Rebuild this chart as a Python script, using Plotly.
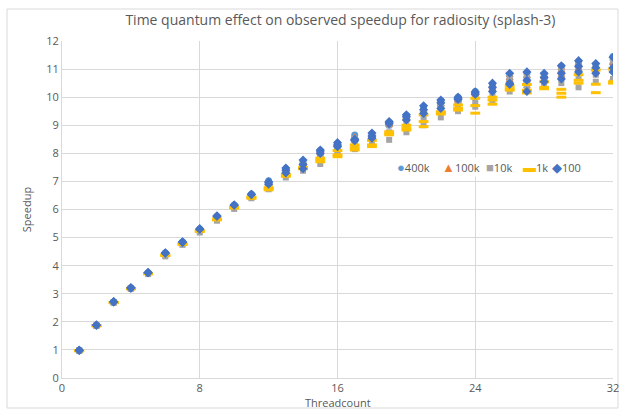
import plotly.graph_objects as go

threads = [1, 2, 3, 4, 5, 6, 7, 8, 9, 10, 11, 12, 13, 14, 15, 16,
           17, 18, 19, 20, 21, 22, 23, 24, 25, 26, 27, 28, 29, 30, 31, 32]

s400k_run1 = [0.99,1.88,2.71,3.21,3.75,4.45,4.84,5.30,5.76,6.16,6.54,7.02,7.45,7.70,8.10,8.35,8.65,8.70,9.10,9.35,9.65,9.88,10.00,10.20,10.45,10.80,10.85,10.80,11.10,11.25,11.15,11.45]
s400k_run2 = [0.98,1.87,2.70,3.19,3.73,4.42,4.80,5.26,5.72,6.10,6.48,6.90,7.35,7.55,7.95,8.20,8.45,8.55,9.00,9.20,9.45,9.70,9.85,10.10,10.30,10.45,10.55,10.55,10.70,10.95,10.90,10.60]
s400k_run3 = [0.99,1.88,2.70,3.20,3.74,4.43,4.82,5.28,5.74,6.13,6.51,6.95,7.40,7.62,8.02,8.28,8.55,8.62,9.05,9.28,9.55,9.78,9.92,10.15,10.38,10.62,10.70,10.68,10.90,11.10,11.00,11.20]

s100k_run1 = [0.99,1.88,2.71,3.20,3.75,4.44,4.83,5.30,5.76,6.15,6.53,6.95,7.42,7.68,8.08,8.32,8.58,8.66,9.08,9.30,9.60,9.85,9.80,10.15,10.42,10.78,10.75,10.78,11.05,11.20,11.10,11.38]
s100k_run2 = [0.98,1.87,2.70,3.19,3.73,4.41,4.80,5.27,5.73,6.12,6.50,6.90,7.36,7.58,8.00,8.25,8.50,8.60,9.00,9.22,9.50,9.70,9.85,10.05,10.30,10.60,10.40,10.65,10.80,11.00,10.95,11.05]
s100k_run3 = [0.98,1.87,2.70,3.19,3.74,4.42,4.81,5.28,5.74,6.13,6.51,6.92,7.38,7.62,8.04,8.28,8.52,8.63,9.03,9.25,9.55,9.75,9.90,10.10,10.35,10.68,10.62,10.72,10.95,11.12,11.02,11.22]

s10k_run1 = [0.99,1.88,2.70,3.20,3.74,4.42,4.81,5.28,5.73,6.12,6.50,6.88,7.38,7.62,8.02,8.28,8.52,8.62,9.00,9.22,9.50,9.75,9.90,10.10,10.40,10.70,10.80,10.75,11.00,11.20,11.10,11.30]
s10k_run2 = [0.96,1.85,2.68,3.18,3.70,4.33,4.74,5.18,5.60,6.02,6.40,6.72,7.14,7.38,7.62,8.00,8.15,8.38,8.48,8.75,9.00,9.28,9.50,9.66,9.85,10.20,10.30,10.40,10.50,10.35,10.55,10.65]
s10k_run3 = [0.97,1.86,2.69,3.19,3.72,4.38,4.78,5.24,5.68,6.08,6.45,6.80,7.25,7.50,7.80,8.10,8.35,8.50,8.75,9.00,9.25,9.50,9.70,9.85,10.10,10.40,10.55,10.55,10.70,10.75,10.80,10.95]

s1k_run1 = [0.98,1.87,2.69,3.19,3.72,4.38,4.78,5.24,5.66,6.08,6.45,6.78,7.25,7.50,7.83,8.10,8.30,8.46,8.77,9.00,9.37,9.48,9.72,9.96,10.00,10.40,10.45,10.55,10.28,10.80,10.97,11.00]
s1k_run2 = [0.97,1.86,2.68,3.18,3.71,4.36,4.76,5.22,5.63,6.05,6.40,6.70,7.18,7.45,7.70,7.88,8.12,8.24,8.66,8.83,9.13,9.40,9.54,9.43,9.75,10.25,10.15,10.30,10.14,10.50,10.46,10.50]
s1k_run3 = [0.98,1.87,2.69,3.19,3.72,4.37,4.77,5.23,5.65,6.07,6.42,6.74,7.22,7.48,7.76,7.95,8.20,8.30,8.70,8.90,8.95,9.45,9.60,9.70,9.90,10.30,10.25,10.35,10.00,10.60,10.16,10.55]

s100_run1 = [0.99,1.89,2.72,3.21,3.76,4.46,4.85,5.31,5.77,6.16,6.54,6.99,7.48,7.76,8.12,8.38,8.50,8.72,9.13,9.37,9.69,9.90,10.00,10.19,10.50,10.85,10.90,10.85,11.12,11.30,11.20,11.42]
s100_run2 = [0.98,1.88,2.71,3.20,3.75,4.44,4.83,5.30,5.76,6.15,6.53,6.90,7.40,7.60,8.08,8.24,8.45,8.62,9.05,9.19,9.42,9.60,9.92,10.15,10.20,10.50,10.60,10.55,10.65,11.10,10.85,10.90]
s100_run3 = [0.99,1.88,2.71,3.21,3.75,4.45,4.84,5.31,5.77,6.16,6.54,6.95,7.30,7.45,8.00,8.30,8.48,8.54,9.10,9.30,9.55,9.80,9.95,10.10,10.35,10.45,10.20,10.70,10.85,10.90,11.05,11.05]

series_names = ["400k", "100k", "10k", "1k", "100"]
series_runs = [
    [s400k_run1, s400k_run2, s400k_run3],
    [s100k_run1, s100k_run2, s100k_run3],
    [s10k_run1, s10k_run2, s10k_run3],
    [s1k_run1, s1k_run2, s1k_run3],
    [s100_run1, s100_run2, s100_run3],
]
colors = ["#5B9BD5", "#ED7D31", "#A5A5A5", "#FFC000", "#4472C4"]
symbols = ["circle", "triangle-up", "square", "line-ew", "diamond"]
sizes = [7, 7, 6, 7, 7]
legend_glyphs = ["●", "▲", "■", "▬", "◆"]

FONT = "Open Sans"
GRAY = "#595959"

fig = go.Figure()
for name, runs, col, sym, sz in zip(series_names, series_runs, colors, symbols, sizes):
    xs, ys = [], []
    for run in runs:
        xs += threads
        ys += run
    if sym == "line-ew":
        marker = dict(symbol=sym, size=sz, color=col, line=dict(color=col, width=3))
    else:
        marker = dict(symbol=sym, size=sz, color=col, line=dict(width=0))
    fig.add_trace(go.Scatter(x=xs, y=ys, mode="markers", name=name,
                             marker=marker, showlegend=False))

# compact legend drawn as text inside the plot area
leg_x = [396, 441, 485, 522, 551]
annotations = []
for (name, col, glyph, lx) in zip(series_names, colors, legend_glyphs, leg_x):
    annotations.append(dict(
        xref="paper", yref="paper",
        x=(lx - 62) / 551, y=(378 - 167) / 337,
        xanchor="left", yanchor="middle", showarrow=False,
        text=f"<span style='color:{col};font-size:13px'>{glyph}</span>{name}",
        font=dict(family=FONT, size=11, color=GRAY),
        bgcolor="white", borderpad=0,
    ))
annotations.append(dict(
    xref="paper", yref="paper", x=0.5, y=(378 - 402) / 337,
    xanchor="center", yanchor="middle", showarrow=False,
    text="Threadcount", font=dict(family=FONT, size=11, color=GRAY)))

fig.update_layout(
    width=619, height=409,
    margin=dict(l=62, r=6, t=41, b=31),
    paper_bgcolor="white", plot_bgcolor="white",
    font=dict(family=FONT, size=11, color=GRAY),
    title=dict(text="Time quantum effect on observed speedup for radiosity (splash-3)",
               x=0.55, xref="container", xanchor="center",
               y=1 - 20 / 409, yref="container", yanchor="middle",
               font=dict(family=FONT, size=14, color=GRAY)),
    xaxis=dict(range=[0, 32], dtick=8, tick0=0, showgrid=True, gridcolor="#D9D9D9",
               gridwidth=1, zeroline=False, showline=True, linecolor="#D9D9D9",
               ticks="", tickfont=dict(size=11, color=GRAY), automargin=False,
               ticklabeloverflow="allow"),
    yaxis=dict(range=[0, 12], dtick=1, tick0=0, showgrid=True, gridcolor="#D9D9D9",
               gridwidth=1, zeroline=False, showline=True, linecolor="#D9D9D9",
               ticks="", tickfont=dict(size=11, color=GRAY), automargin=False,
               title=dict(text="Speedup", standoff=12,
                          font=dict(size=11, color=GRAY))),
    annotations=annotations,
    shapes=[dict(type="rect", xref="paper", yref="paper",
                 x0=(7 - 62) / 551, x1=(618 - 62) / 551,
                 y0=(378 - 408) / 337, y1=(378 - 9) / 337,
                 line=dict(color="#D9D9D9", width=1), layer="below")],
)

fig.write_html("out.html", config={"displayModeBar": False},
               post_script="document.body.style.margin='0';document.body.style.padding='0';")
